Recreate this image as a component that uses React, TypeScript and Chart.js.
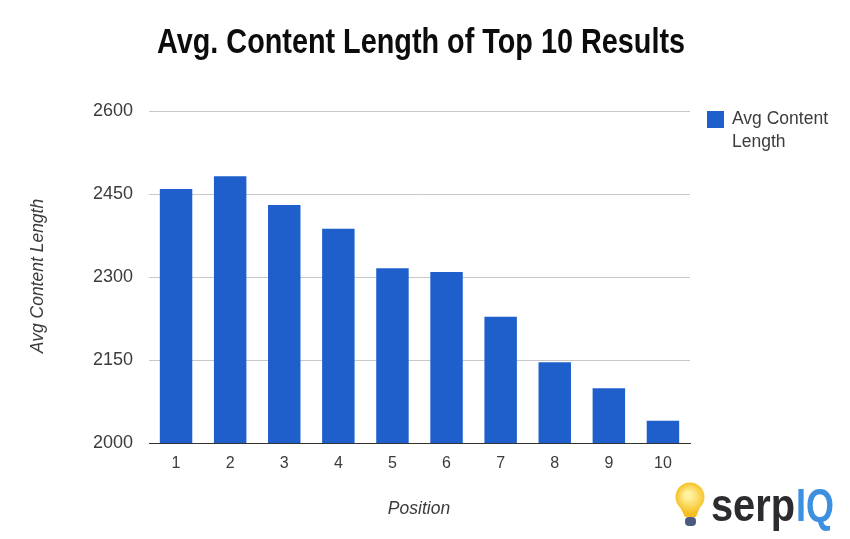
import { useEffect, useRef } from "react";
import Chart from "chart.js/auto";

const positions = ["1", "2", "3", "4", "5", "6", "7", "8", "9", "10"];
const avgLength = [2459, 2482, 2430, 2387, 2316, 2309, 2228, 2146, 2099, 2040];
const yTicks = [2000, 2150, 2300, 2450, 2600];

const titleText = "Avg. Content Length of Top 10 Results";
const xTitle = "Position";
const yTitle = "Avg Content Length";
const legendLines = ["Avg Content", "Length"];

const barColor = "#1f5fcb";
const textColor = "#3c3c3c";
const sans = "'Liberation Sans'";

const App = () => {
  const canvasRef = useRef<HTMLCanvasElement | null>(null);

  useEffect(() => {
    if (!canvasRef.current) return;

    // title, axis names, legend and logo sit at fixed spots around the plot
    const extras = {
      id: "extras",
      afterDraw(c: any) {
        const ctx = c.ctx;
        ctx.save();
        ctx.textBaseline = "middle";
        ctx.textAlign = "center";

        ctx.fillStyle = "#0c0c0c";
        ctx.font = `bold 35px ${sans}`;
        ctx.fillText(titleText, 421, 43, 528);

        ctx.fillStyle = textColor;
        ctx.font = `italic 17.5px ${sans}`;
        ctx.fillText(xTitle, 419, 509);
        ctx.save();
        ctx.translate(38, 276);
        ctx.rotate(-Math.PI / 2);
        ctx.fillText(yTitle, 0, 0);
        ctx.restore();

        // legend
        ctx.textAlign = "left";
        ctx.fillStyle = barColor;
        ctx.fillRect(707, 111, 17, 17);
        ctx.fillStyle = textColor;
        ctx.font = `17.5px ${sans}`;
        ctx.fillText(legendLines[0], 732, 119, 98);
        ctx.fillText(legendLines[1], 732, 142);

        // logo
        ctx.font = `bold 46px ${sans}`;
        ctx.fillStyle = "#2c2c30";
        ctx.fillText("serp", 711, 508, 84);
        ctx.fillStyle = "#3d8fe0";
        ctx.fillText("IQ", 796, 508, 38);

        const glow = ctx.createRadialGradient(688, 495, 3, 691, 498, 16);
        glow.addColorStop(0, "#fff3a0");
        glow.addColorStop(1, "#f5bd1f");
        ctx.fillStyle = glow;
        ctx.beginPath();
        ctx.arc(690, 497, 14.5, 0, Math.PI * 2);
        ctx.fill();
        ctx.beginPath();
        ctx.moveTo(680, 507);
        ctx.lineTo(700, 507);
        ctx.lineTo(696, 517);
        ctx.lineTo(685, 517);
        ctx.closePath();
        ctx.fill();
        ctx.fillStyle = "#4a5a80";
        ctx.beginPath();
        ctx.roundRect(685, 517, 11, 9, 4);
        ctx.fill();
        ctx.restore();
      },
    };

    const chart = new Chart(canvasRef.current, {
      type: "bar",
      plugins: [extras],
      data: {
        labels: positions,
        datasets: [
          {
            label: "Avg Content Length",
            data: avgLength,
            backgroundColor: barColor,
            barPercentage: 0.6,
            categoryPercentage: 1,
          },
        ],
      },
      options: {
        animation: false,
        responsive: false,
        layout: { padding: { left: 0, right: 160, top: 111, bottom: 0 } },
        plugins: {
          legend: { display: false },
          tooltip: { enabled: false },
        },
        scales: {
          x: {
            afterFit: (axis: any) => {
              axis.height = 96;
            },
            grid: { display: false },
            border: { color: "#333" },
            ticks: { color: textColor, font: { family: "Liberation Sans", size: 16 }, padding: 3, maxRotation: 0 },
          },
          y: {
            min: 2000,
            max: 2600,
            afterFit: (axis: any) => {
              axis.width = 149;
            },
            afterBuildTicks: (axis: any) => {
              axis.ticks = yTicks.map((v) => ({ value: v }));
            },
            grid: { color: "#c8c8c8", drawTicks: false },
            border: { display: false },
            ticks: {
              color: textColor,
              font: { family: "Liberation Sans", size: 18 },
              padding: 16,
              callback: (v: any) => String(v),
            },
          },
        },
      },
    });

    return () => chart.destroy();
  }, []);

  return <canvas ref={canvasRef} width={850} height={539} style={{ position: "fixed", left: 0, top: 0 }} />;
};

export default App;
